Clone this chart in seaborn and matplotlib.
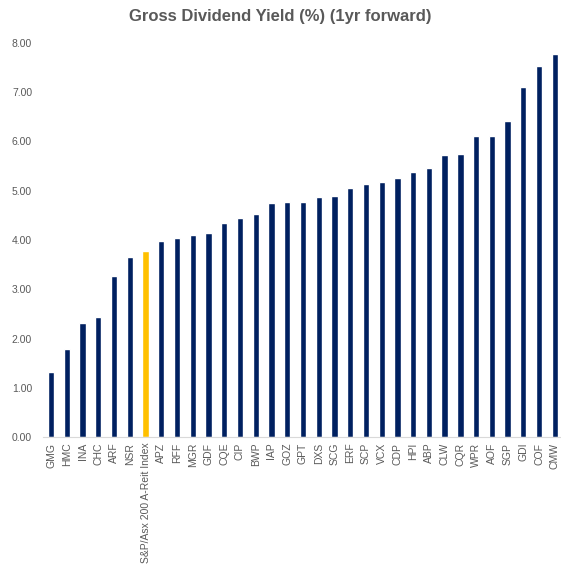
import pandas as pd
import numpy as np
import matplotlib.pyplot as plt
import seaborn as sns

tickers = ["GMG", "HMC", "INA", "CHC", "ARF", "NSR", "S&P/Asx 200 A-Reit Index",
           "APZ", "RFF", "MGR", "GDF", "CQE", "CIP", "BWP", "IAP", "GOZ", "GPT",
           "DXS", "SCG", "ERF", "SCP", "VCX", "CDP", "HPI", "ABP", "CLW", "CQR",
           "WPR", "AOF", "SGP", "GDI", "COF", "CMW"]
yields = [1.32, 1.79, 2.31, 2.44, 3.26, 3.65, 3.78,
          3.97, 4.05, 4.10, 4.15, 4.35, 4.45, 4.53, 4.76, 4.78, 4.78,
          4.88, 4.90, 5.06, 5.13, 5.18, 5.25, 5.37, 5.46, 5.73, 5.75,
          6.10, 6.12, 6.42, 7.10, 7.53, 7.78]
highlight = "S&P/Asx 200 A-Reit Index"

df = pd.DataFrame({"ticker": tickers, "yield": yields})
colors = {t: ("#FFC000" if t == highlight else "#002060") for t in tickers}

sns.set_style("white")
plt.rcParams['font.family'] = ['Liberation Sans', 'DejaVu Sans']

fig = plt.figure(figsize=(5.61, 5.79), dpi=100)
ax = fig.add_axes([0.077, 0.245, 0.926, 0.681])
sns.barplot(data=df, x="ticker", y="yield", hue="ticker", palette=colors,
            legend=False, width=0.4, saturation=1, ax=ax)

ax.set_xlim(-0.5, 32.5)
ax.set_ylim(0, 8)
ax.set_yticks(np.arange(0, 9, 1))
ax.set_yticklabels([f"{v:.2f}" for v in np.arange(0, 9, 1)])
ax.set_xlabel("")
ax.set_ylabel("")
ax.tick_params(axis="x", rotation=90, labelsize=7.5, colors="#595959", length=0, pad=4)
ax.tick_params(axis="y", labelsize=7.5, colors="#595959", length=0, pad=8)
for s in ["top", "right", "left"]:
    ax.spines[s].set_visible(False)
ax.spines["bottom"].set_color("#D9D9D9")
ax.spines["bottom"].set_linewidth(0.8)

fig.suptitle("Gross Dividend Yield (%) (1yr forward)", fontsize=12, fontweight="bold",
             color="#595959", y=0.985)

plt.savefig("out.png", dpi=100)
